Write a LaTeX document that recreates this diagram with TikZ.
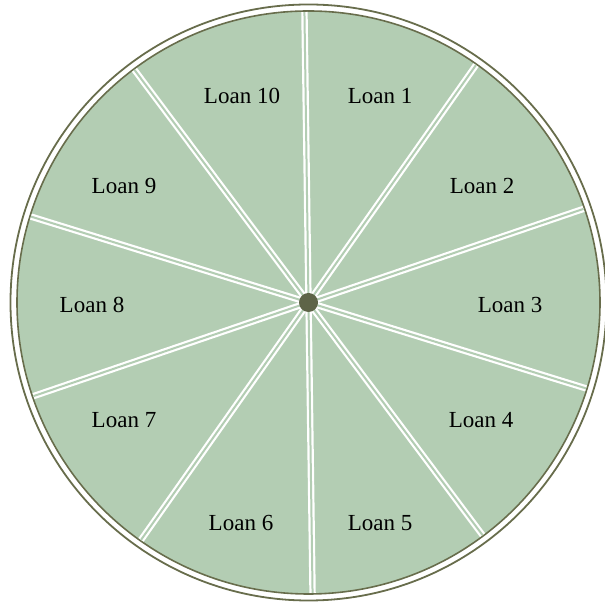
\documentclass[tikz,border=0pt]{standalone}
\usepackage{fontspec}
\setmainfont{Liberation Serif}
\definecolor{wedge}{HTML}{B3CDB3}
\definecolor{rim}{HTML}{686D4C}
\definecolor{hub}{HTML}{5E6448}

\begin{document}
\begin{tikzpicture}[
  x=0.5pt,y=0.5pt,
  font=\fontsize{11.5}{14}\selectfont,
  rimline/.style={draw=rim,line width=0.9pt},
  disc/.style={draw=rim,line width=0.8pt,fill=wedge},
  spoke/.style={draw=white,line width=1.1pt,double=wedge,double distance=1pt},
  lbl/.style={inner sep=1pt}
]
\useasboundingbox (0,0) rectangle (605,604);
\coordinate (c) at (308.5,301.5);

% rim and disc
\draw[rimline] (c) circle[radius=298];
\draw[disc] (c) circle[radius=291.5];

% spokes
\foreach \k in {0,...,9}{
  \draw[spoke] (c) -- ++(90.8-\k*36:290.5);
}
\fill[hub] (c) circle[radius=9.5];

% labels
\foreach \n/\x/\y in {1/380/508, 2/482/418, 3/510/299, 4/481/184, 5/380/81,
                      6/241/81, 7/124/184, 8/92/299, 9/124/418, 10/242/508}{
  \node[lbl] (loan\n) at (\x,\y) {Loan \n};
}
\end{tikzpicture}
\end{document}
